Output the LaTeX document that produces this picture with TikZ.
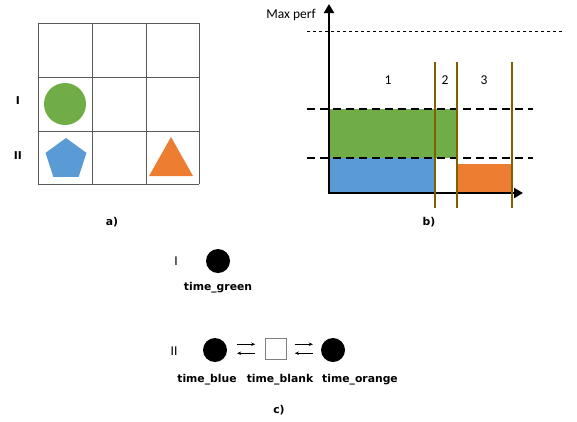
\documentclass[tikz,border=0pt]{standalone}
\usepackage{fontspec}
\setmainfont{Carlito}
\newfontfamily\labelfont{DejaVu Sans}
\usepackage{xcolor}
\usetikzlibrary{arrows.meta,shapes.geometric,calc}
\definecolor{perfgreen}{HTML}{70AD47}
\definecolor{perfblue}{HTML}{5B9BD5}
\definecolor{perforange}{HTML}{ED7D31}
\definecolor{slotgold}{HTML}{7F6000}

\begin{document}
\begin{tikzpicture}[x=1pt, y=-1pt,
  boldlabel/.style={font=\labelfont\bfseries\fontsize{10.8}{13}\selectfont, inner sep=0pt},
  plainlabel/.style={font=\fontsize{13.5}{16}\selectfont, inner sep=0pt},
  state/.style={circle, fill=black, minimum size=24pt, inner sep=0pt},
  blankstate/.style={draw=gray, line width=0.7pt, minimum size=21pt, inner sep=0pt},
  trans/.style={-{Stealth[length=4pt,width=3.5pt]}, line width=0.7pt},
  level/.style={dash pattern=on 8pt off 5pt, line width=1.3pt},
  slot/.style={slotgold, line width=1.8pt}]
  \useasboundingbox (0,0) rectangle (577,421);
  % a) the grid
  \foreach \gx in {38,92,146,199} \draw[gray!70!black, line width=0.9pt] (\gx,23) -- (\gx,184);
  \foreach \gy in {23,77,131,184} \draw[gray!70!black, line width=0.9pt] (38,\gy) -- (199,\gy);
  \fill[perfgreen] (65,104) circle (21pt);
  \node[regular polygon, regular polygon sides=5, fill=perfblue, minimum size=43pt, inner sep=0pt] (pentagon) at (66,159.5) {};
  \fill[perforange] (171,137) -- (193,176) -- (149,176) -- cycle;
  \node[boldlabel] (rowone) at (18,101) {I};
  \node[boldlabel] (rowtwo) at (18,156) {II};
  \node[boldlabel] (capa) at (112,222) {a)};
  % b) performance levels
  \fill[perfgreen] (329,109) rectangle (456,158);
  \fill[perfblue] (329,158) rectangle (435,193);
  \fill[perforange] (457,164) rectangle (512,193);
  \draw[dash pattern=on 3pt off 3pt, line width=0.6pt] (307,31) -- (565,31);
  \draw[level] (307,109) -- (533,109);
  \draw[level] (307,158) -- (533,158);
  \draw[line width=2.6pt, line join=miter, {Triangle[length=9pt,width=10pt]}-{Triangle[length=9pt,width=10pt]}] (329,4) -- (329,193) -- (523,193);
  \foreach \sx in {435,457,512} \draw[slot] (\sx,62) -- (\sx,208);
  \node[plainlabel] (maxperf) at (291,15) {Max perf};
  \node[plainlabel] (slotone) at (388,80) {1};
  \node[plainlabel] (slottwo) at (445,80) {2};
  \node[plainlabel] (slotthree) at (484,80) {3};
  \node[boldlabel] (capb) at (429,222) {b)};
  % c) states
  \node[plainlabel] (stateone) at (176,261) {I};
  \node[state] (green) at (218,261) {};
  \node[boldlabel] (greenlabel) at (218,288) {time\_green};
  \node[plainlabel] (statetwo) at (174,351) {II};
  \node[state] (blue) at (215,350) {};
  \node[blankstate] (blank) at (276,348.5) {};
  \node[state] (orange) at (333,350) {};
  \node[boldlabel] (bluelabel) at (207,380) {time\_blue};
  \node[boldlabel] (blanklabel) at (280,380) {time\_blank};
  \node[boldlabel] (orangelabel) at (360,380) {time\_orange};
  \coordinate (gapone) at ($(blue.east)!0.5!(blank.west)$);
  \coordinate (gaptwo) at ($(blank.east)!0.5!(orange.west)$);
  \draw[trans] ([shift={(-9,-5)}]gapone) -- ([shift={(9,-5)}]gapone);
  \draw[trans] ([shift={(9,4)}]gapone) -- ([shift={(-9,4)}]gapone);
  \draw[trans] ([shift={(-9,-5)}]gaptwo) -- ([shift={(9,-5)}]gaptwo);
  \draw[trans] ([shift={(9,4)}]gaptwo) -- ([shift={(-9,4)}]gaptwo);
  \node[boldlabel] (capc) at (279,410) {c)};
\end{tikzpicture}
\end{document}
